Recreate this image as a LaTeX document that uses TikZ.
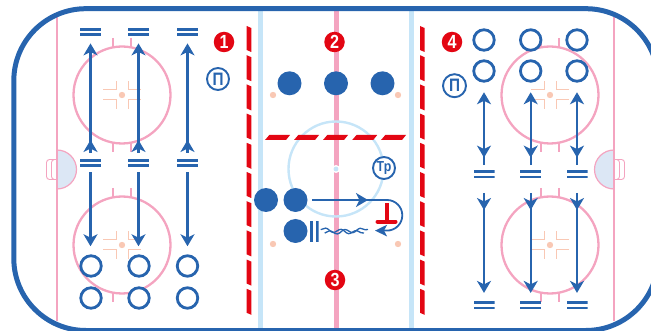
\documentclass[tikz,border=0pt]{standalone}
\usepackage{xcolor}
\usepackage{fontspec}
\usepackage{tikz}
\setmainfont{Liberation Sans}
\newfontfamily\coachfont[FakeStretch=0.85]{Liberation Sans}
\usetikzlibrary{
  arrows.meta,
  positioning,
  decorations.pathmorphing,
  decorations.markings
}
\definecolor{rkBlue}{HTML}{2764AE}
\definecolor{rkRed}{HTML}{E30613}
\definecolor{rkPink}{HTML}{F4A4C0}
\definecolor{rkIce}{HTML}{C6E5F8}
\definecolor{rkSpot}{HTML}{F9C8B4}
\definecolor{rkCrease}{HTML}{DCE7F5}
\tikzset{
  ring/.style={circle, draw=rkBlue, line width=2.8pt, fill=white, minimum size=20.5pt, inner sep=0pt, outer sep=0pt},
  puckman/.style={circle, fill=rkBlue, minimum size=24pt, inner sep=0pt, outer sep=0pt},
  barpair/.style={
    minimum width=21pt, minimum height=8.4pt, inner sep=0pt, outer sep=0pt,
    path picture={
      \fill[rkBlue] (path picture bounding box.north west) rectangle ([yshift=-2.9pt]path picture bounding box.north east);
      \fill[rkBlue] (path picture bounding box.south west) rectangle ([yshift=2.9pt]path picture bounding box.south east);
    }
  },
  barpairv/.style={
    minimum width=8.8pt, minimum height=21pt, inner sep=0pt, outer sep=0pt,
    path picture={
      \fill[rkBlue] (path picture bounding box.north west) rectangle ([xshift=2.9pt]path picture bounding box.south west);
      \fill[rkBlue] (path picture bounding box.north east) rectangle ([xshift=-2.9pt]path picture bounding box.south east);
    }
  },
  badge/.style={circle, fill=rkRed, text=white, minimum size=20.5pt, inner sep=0pt, font=\coachfont\bfseries\fontsize{19}{19}\selectfont},
  coach/.style={circle, draw=rkBlue, line width=1.9pt, fill=white, text=rkBlue, minimum size=22pt, inner sep=0pt, font=\coachfont\bfseries\fontsize{18}{18}\selectfont},
  run/.style={-{Stealth[length=12pt, width=14pt, inset=3.5pt]}, line width=2.2pt, rkBlue},
  pass/.style={-{Stealth[length=12pt, width=11.5pt, inset=3pt]}, line width=1.8pt, rkBlue},
  tipat/.style={postaction={decorate, decoration={markings,
    mark=at position #1 with {\arrow{Stealth[length=12pt, width=14pt, inset=3.5pt]}}}}},
  backat/.style={postaction={decorate, decoration={markings,
    mark=at position #1 with {\arrowreversed{Stealth[length=12pt, width=14pt, inset=3.5pt]}}}}},
  wave/.style={rkBlue, line width=1.3pt, decorate, decoration={snake, segment length=15.5pt, amplitude=1.9pt}},
  faceoff/.pic={
    \draw[rkPink, line width=2.3pt] (0,0) circle[radius=48.5pt];
    \draw[rkPink, line width=1.8pt] (-9,-57) -- (-9,-48) (9,-57) -- (9,-48) (-9,48) -- (-9,57) (9,48) -- (9,57);
    \fill[rkSpot] (0,0) circle[radius=3.2pt];
    \draw[rkSpot, line width=1pt] (-19,-5) -- (-6,-5) -- (-6,-14) (19,-5) -- (6,-5) -- (6,-14)
      (-19,5) -- (-6,5) -- (-6,14) (19,5) -- (6,5) -- (6,14);
  }
}
\begin{document}
\begin{tikzpicture}[x=1pt, y=-1pt]
  \useasboundingbox (0,0) rectangle (651,331);
  \clip (0,0) rectangle (651,331);
  % rink
  \draw[rkIce, line width=5pt] (260.7,10) -- (260.7,329) (411,10) -- (411,329);
  \draw[rkPink, line width=5pt] (336,10) -- (336,329);
  \draw[rkPink, line width=1.8pt] (57,17) -- (57,321) (614,17) -- (614,321);
  \draw[rkIce, line width=2.4pt] (336,169) circle[radius=47.5pt];
  \fill[white] (336,169) circle[radius=4pt];
  \fill[rkIce] (336,169) circle[radius=2.4pt];
  \foreach \yy in {26,55.2,84.4,113.6,142.8,172,201.2,230.4,259.6,288.8} {
    \fill[rkRed] (246.7,\yy) -- (251.3,\yy+2) -- (251.3,\yy+26) -- (246.7,\yy+24) -- cycle;
    \fill[rkRed] (420,\yy) -- (424.6,\yy+2) -- (424.6,\yy+26) -- (420,\yy+24) -- cycle;
  }
  \foreach \xx in {265,294,323,352.2,381}
    \fill[rkRed] (\xx,140) -- (\xx+4.3,135) -- (\xx+25,135) -- (\xx+21,140) -- cycle;
  \pic at (122,95) {faceoff};
  \pic at (122,245) {faceoff};
  \pic at (550,95) {faceoff};
  \pic at (550,245) {faceoff};
  \fill[rkSpot] (273,95) circle[radius=3.2pt] (398,95) circle[radius=3.2pt]
    (273,244) circle[radius=3.2pt] (398,244) circle[radius=3.2pt];
  % goals and creases
  \draw[rkPink, line width=1.2pt, fill=rkCrease] (57,150) arc[start angle=90, end angle=-90, radius=19.5pt] -- cycle;
  \draw[rkPink, line width=1.2pt, fill=rkCrease] (614,150) arc[start angle=90, end angle=270, radius=19.5pt] -- cycle;
  \draw[rkPink, line width=0.9pt, rounded corners=3pt] (57,159.5) -- (46.5,159.5) -- (46.5,179.5) -- (57,179.5)
    (57,159.5) -- (51.5,159.5) -- (51.5,179.5) -- (57,179.5);
  \draw[rkPink, line width=0.9pt, rounded corners=3pt] (614,159.5) -- (624.5,159.5) -- (624.5,179.5) -- (614,179.5)
    (614,159.5) -- (619.5,159.5) -- (619.5,179.5) -- (614,179.5);
  \draw[rkPink, line width=1.8pt] (57,150) -- (57,189) (614,150) -- (614,189);
  \draw[rkBlue, line width=5pt, rounded corners=72pt] (13.8,8.7) rectangle (658,330.5);

  % left zone
  \node[barpair] (lt1) at (90.5,32.2) {};
  \node[barpair, right=27pt of lt1] (lt2) {};
  \node[barpair, right=28pt of lt2] (lt3) {};
  \node[barpair] (lm1) at (90.5,163.2) {};
  \node[barpair, right=27pt of lm1] (lm2) {};
  \node[barpair, right=28pt of lm2] (lm3) {};
  \node[ring] (lb1) at (91,266) {};
  \node[ring] (lb2) at (139,266) {};
  \node[ring] (lb3) at (187.5,266) {};
  \node[ring, below=11.5pt of lb1] (lc1) {};
  \node[ring, below=11.5pt of lb2] (lc2) {};
  \node[ring, below=11.5pt of lb3] (lc3) {};
  \node[badge] (one) at (224,42) {1};
  \node[coach] (pl) at (218,79) {П};
  \draw[run, tipat=19pt, shorten <=6pt, shorten >=7pt] (lm1.north) -- (lt1.south);
  \draw[run, tipat=19pt, shorten <=6pt, shorten >=7pt] (lm2.north) -- (lt2.south);
  \draw[run, tipat=19pt, shorten <=6pt, shorten >=7pt] (lm3.north) -- (lt3.south);
  \draw[run, shorten <=4.7pt, shorten >=9.5pt] (lm1.south) -- (lm1.south |- lb1.north);
  \draw[run, shorten <=4.7pt, shorten >=9.5pt] (lm2.south) -- (lm2.south |- lb2.north);
  \draw[run, shorten <=4.7pt, shorten >=9.5pt] (lm3.south) -- (lm3.south |- lb3.north);

  % neutral zone
  \node[puckman] (f1) at (289.5,83.3) {};
  \node[puckman, right=22.5pt of f1] (f2) {};
  \node[puckman, right=22.5pt of f2] (f3) {};
  \node[puckman] (w1) at (266,200) {};
  \node[puckman, right=5.5pt of w1] (w2) {};
  \node[puckman, below=7pt of w2] (w3) {};
  \node[barpairv] (vb) at (314.3,231.3) {};
  \node[badge] (two) at (334.5,42) {2};
  \node[badge] (three) at (335,280) {3};
  \node[coach, font=\coachfont\bfseries\fontsize{14.5}{14.5}\selectfont] (tr) at (384,168) {Тр};
  \coordinate (turn) at (387,200);
  \coordinate (carry) at (375,230.6);
  \coordinate (waveup) at (368,229.5);
  \coordinate (wavedn) at (364,233);
  \draw[pass, shorten <=4.5pt, tipat=60.5pt] (w2.east) -- (turn) arc[start angle=90, end angle=-90, radius=15.3pt] -- (carry);
  \draw[rkRed, line width=4pt, line cap=round] (377.5,221.7) -- (395.5,221.7);
  \draw[rkRed, line width=4pt] (386.7,203) -- (386.7,221);
  \draw[wave] ([xshift=6pt, yshift=-1.8pt]vb.east) -- (waveup);
  \draw[wave] ([xshift=2pt, yshift=1.7pt]vb.east) -- (wavedn);

  % right zone
  \node[ring] (rt1) at (484,40) {};
  \node[ring] (rt2) at (530.7,40) {};
  \node[ring] (rt3) at (577,40) {};
  \node[ring, below=10.5pt of rt1] (rc1) {};
  \node[ring, below=10.5pt of rt2] (rc2) {};
  \node[ring, below=10.5pt of rt3] (rc3) {};
  \node[barpair] (rm1) at (484,174.3) {};
  \node[barpair] (rm2) at (530.7,174.3) {};
  \node[barpair] (rm3) at (577,174.3) {};
  \node[barpair] (rb1) at (484,305.3) {};
  \node[barpair] (rb2) at (530.7,305.3) {};
  \node[barpair] (rb3) at (577,305.3) {};
  \node[badge] (four) at (452,42) {4};
  \node[coach, minimum size=23pt] (pr) at (454.5,85.7) {П};
  \draw[run, backat=12.5pt, shorten <=5pt, shorten >=11pt] (rm1.north) -- (rc1.south);
  \draw[run, backat=12.5pt, shorten <=5pt, shorten >=11pt] (rm2.north) -- (rc2.south);
  \draw[run, backat=12.5pt, shorten <=5pt, shorten >=11pt] (rm3.north) -- (rc3.south);
  \draw[run, tipat=31.5pt, shorten <=14.5pt, shorten >=8.2pt] (rm1.south) -- (rb1.north);
  \draw[run, tipat=31.5pt, shorten <=14.5pt, shorten >=8.2pt] (rm2.south) -- (rb2.north);
  \draw[run, tipat=31.5pt, shorten <=14.5pt, shorten >=8.2pt] (rm3.south) -- (rb3.north);
\end{tikzpicture}
\end{document}
